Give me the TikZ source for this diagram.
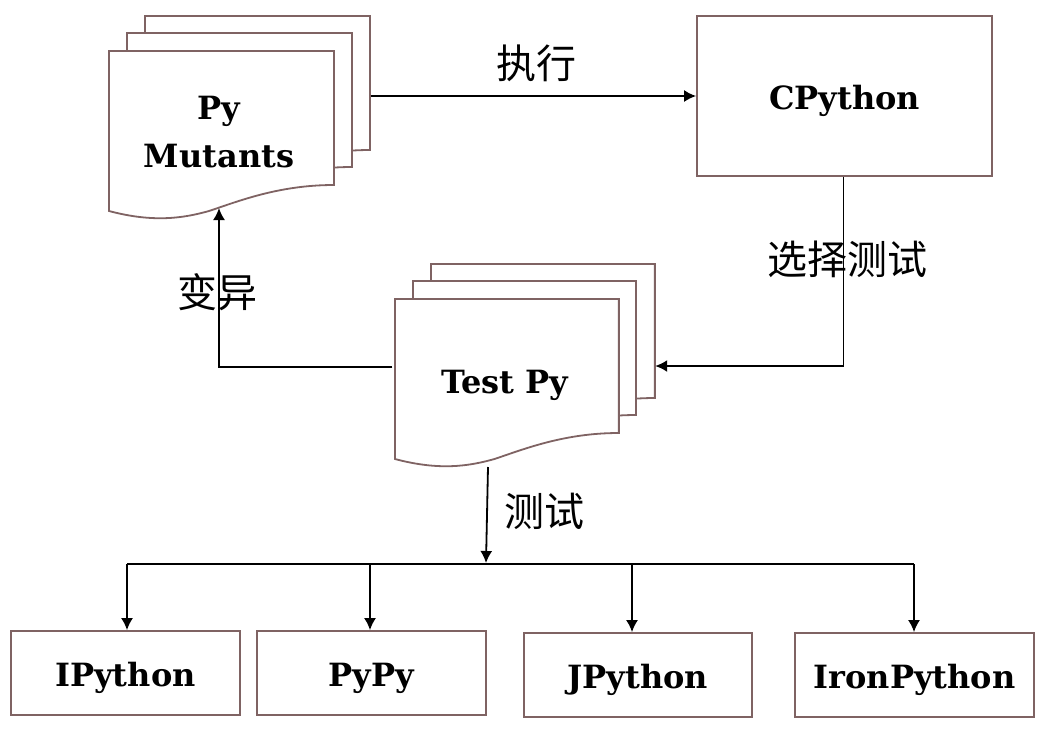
\documentclass[tikz,border=0pt]{standalone}
\usepackage{fontspec}
\setmainfont{DejaVu Serif}
\newfontfamily\cjk{Noto Sans CJK SC}
\usetikzlibrary{arrows.meta,calc,positioning}

\begin{document}
\begin{tikzpicture}[x=1pt,y=-1pt,
box/.style={rectangle, draw=boxline, line width=1.8pt, fill=white, inner sep=0pt, text height=30pt, text depth=4pt, font=\bfseries\fontsize{32pt}{38pt}\selectfont, text=black},
sheet/.style={rectangle, draw=none, inner sep=0pt, minimum width=225pt, minimum height=167pt, align=center, font=\bfseries\fontsize{32pt}{48pt}\selectfont},
outline/.style={draw=boxline, line width=1.8pt, fill=white},
edge/.style={line width=1.8pt, -{Latex[length=12pt,width=12pt]}},
bus/.style={line width=1.8pt},
info/.style={draw=none, inner sep=0pt, font=\cjk\fontsize{40pt}{46pt}\selectfont}]
\definecolor{boxline}{HTML}{7F6363}

%% local variables
\def \busy {564}

\useasboundingbox (0,0) rectangle (1044,737);

%% one page of a stack, from its top left corner
\def \page#1#2#3{
  \begin{scope}[shift={(#1,#2)},xscale=#3]
  \draw[outline] (0,0) -- (225,0) -- (225,134)
    .. controls (170,134) and (130,150) .. (100,160)
    .. controls (75,167) and (45,172) .. (0,160) -- cycle;
  \end{scope}
}

%% stack of mutants
\page{145}{16}{1}
\page{127}{33}{1}
\page{109}{51}{1}
\node[sheet] (mutants) at (219,132) {Py\\Mutants};
\node[sheet,minimum height=134pt] (mutantsback) at (258,83) {};

%% stack of tests
\page{431}{264}{.995}
\page{413}{281}{.991}
\page{395}{299}{.995}
\node[sheet] (tests) at (505,385) {Test Py};
\node[sheet,minimum height=134pt,minimum width=224pt] (testsback) at (543,331) {};

%% place all boxes
\node[box,minimum width=295pt,minimum height=160pt] (cpython) at (844.5,96) {CPython};
\node[box,minimum width=229pt,minimum height=84pt] (ipython) at (125.5,673) {IPython};
\node[box,minimum width=229pt,minimum height=84pt] (pypy) at (371.5,673) {PyPy};
\node[box,minimum width=228pt,minimum height=84pt] (jpython) at (638,675) {JPython};
\node[box,minimum width=239pt,minimum height=84pt] (ironpython) at (914.5,675) {IronPython};

%% place all labels
\node[info] (run) at (536,63) {执行};
\node[info] (select) at (847,259) {选择测试};
\node[info] (mutate) at (217,292) {变异};
\node[info] (test) at (544,511) {测试};

%% place all edges
\draw[edge] (mutantsback.east |- cpython.west) -- (cpython.west);
\draw[edge] ([xshift=-1pt]cpython.south) |- (testsback.east |- 0,366);
\draw[edge] ([yshift=18pt]tests.west) -| (219,208);

\coordinate (busend) at (486,563);
\draw[edge] (488,467) -- (busend);
\draw[bus] (127,\busy) -- (914,\busy);
\foreach \x/\b in {127/ipython, 370/pypy, 632/jpython, 914/ironpython}
      \draw[edge] (\x,\busy) -- (\x,\busy |- \b.north);
\end{tikzpicture}
\end{document}
